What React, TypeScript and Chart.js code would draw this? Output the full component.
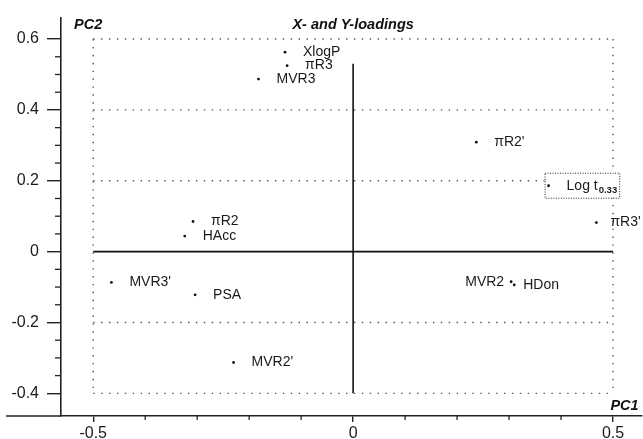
import React, { useEffect, useRef } from "react";
import { Chart, registerables } from "chart.js";

Chart.register(...registerables);

// ---- data ----
const pointNames = ["XlogP", "πR3", "MVR3", "πR2'", "Log t", "πR3'", "πR2", "HAcc", "MVR3'", "PSA", "MVR2'", "MVR2", "HDon"];
const pc1Values = [-0.131, -0.127, -0.182, 0.237, 0.376, 0.468, -0.308, -0.324, -0.465, -0.304, -0.23, 0.304, 0.31];
const pc2Values = [0.563, 0.525, 0.487, 0.309, 0.186, 0.082, 0.085, 0.044, -0.087, -0.122, -0.313, -0.085, -0.094];
const logSubscript = "0.33";
const boxedName = "Log t";
const leftLabelNames = ["MVR2"];

const xTickValues = [-0.5, 0, 0.5];
const xTickLabels = ["-0.5", "0", "0.5"];
const yTickValues = [-0.4, -0.2, 0, 0.2, 0.4, 0.6];
const yTickLabels = ["-0.4", "-0.2", "0", "0.2", "0.4", "0.6"];
const xMinorTicks = [-0.4, -0.3, -0.2, -0.1, 0.1, 0.2, 0.3, 0.4];
const yMinorTicks = [-0.35, -0.3, -0.25, -0.15, -0.1, -0.05, 0.05, 0.1, 0.15, 0.25, 0.3, 0.35, 0.45, 0.5, 0.55];
const dottedRows = [0.6, 0.4, 0.2, -0.2, -0.4];
const dottedCols = [-0.5, 0.5];

const chartTitle = "X- and Y-loadings";
const xAxisTitle = "PC1";
const yAxisTitle = "PC2";

const SANS = '"Liberation Sans", Arial, sans-serif';
const LABEL_FONT = `14px ${SANS}`;
const SUB_FONT = `bold 9.5px ${SANS}`;

const labelGap = (name: string) => (name === "HDon" ? 9 : name === "πR3'" ? 14 : 18);

const overlayPlugin = {
  id: "overlay",
  beforeDatasetsDraw(chart: any) {
    const { ctx, chartArea } = chart;
    const xs = chart.scales.x;
    const ys = chart.scales.y;
    const X = (v: number) => xs.getPixelForValue(v);
    const Y = (v: number) => ys.getPixelForValue(v);
    const line = (x1: number, y1: number, x2: number, y2: number) => {
      ctx.beginPath();
      ctx.moveTo(x1, y1);
      ctx.lineTo(x2, y2);
      ctx.stroke();
    };
    ctx.save();
    // dotted frame / grid
    ctx.strokeStyle = "#555";
    ctx.lineWidth = 1.4;
    ctx.setLineDash([1.4, 6.5]);
    for (const v of dottedRows) line(X(-0.5), Y(v), X(0.5), Y(v));
    for (const v of dottedCols) line(X(v), Y(0.6), X(v), Y(-0.4));
    // solid zero lines
    ctx.setLineDash([]);
    ctx.strokeStyle = "#111";
    ctx.lineWidth = 1.6;
    line(X(-0.5), Y(0), X(0.5), Y(0));
    line(X(0), Y(0.53), X(0), Y(-0.4));
    // x-axis extension to the left of the y axis
    ctx.strokeStyle = "#222";
    ctx.lineWidth = 1.6;
    line(6, chartArea.bottom, chartArea.left, chartArea.bottom);
    // minor ticks
    ctx.lineWidth = 1.3;
    for (const v of xMinorTicks) line(X(v), chartArea.bottom, X(v), chartArea.bottom + 4);
    for (const v of yMinorTicks) line(chartArea.left - 6, Y(v), chartArea.left, Y(v));
    // highlighted label box (opaque, covers the grid)
    const meta = chart.getDatasetMeta(0);
    const bi = pointNames.indexOf(boxedName);
    if (bi >= 0 && meta.data[bi]) {
      const pt = meta.data[bi];
      ctx.font = LABEL_FONT;
      const w = ctx.measureText(boxedName).width;
      ctx.font = SUB_FONT;
      const w2 = ctx.measureText(logSubscript).width;
      const tx = pt.x + labelGap(boxedName);
      const bx = pt.x - 4;
      const bw = tx + w + 1 + w2 + 2 - bx;
      ctx.fillStyle = "#fff";
      ctx.fillRect(bx, pt.y - 13, bw, 25);
      ctx.strokeStyle = "#222";
      ctx.lineWidth = 1;
      ctx.setLineDash([1, 1.5]);
      ctx.strokeRect(bx + 0.5, pt.y - 12.5, bw, 25);
      ctx.setLineDash([]);
    }
    ctx.restore();
  },
  afterDatasetsDraw(chart: any) {
    const { ctx, chartArea } = chart;
    const meta = chart.getDatasetMeta(0);
    ctx.save();
    ctx.fillStyle = "#1a1a1a";
    ctx.textBaseline = "middle";
    ctx.font = LABEL_FONT;
    meta.data.forEach((pt: any, i: number) => {
      const name = pointNames[i];
      if (leftLabelNames.includes(name)) {
        ctx.textAlign = "right";
        ctx.fillText(name, pt.x - 7, pt.y);
        return;
      }
      ctx.textAlign = "left";
      const tx = pt.x + labelGap(name);
      ctx.fillText(name, tx, pt.y);
      if (name === boxedName) {
        const w = ctx.measureText(name).width;
        ctx.font = SUB_FONT;
        ctx.fillText(logSubscript, tx + w + 1, pt.y + 5);
        ctx.font = LABEL_FONT;
      }
    });
    // titles
    ctx.fillStyle = "#111";
    ctx.textBaseline = "alphabetic";
    ctx.font = `italic bold 14.5px ${SANS}`;
    ctx.textAlign = "center";
    ctx.fillText(chartTitle, chart.scales.x.getPixelForValue(0), 29);
    ctx.textAlign = "left";
    ctx.fillText(yAxisTitle, chartArea.left + 13, 29);
    ctx.textAlign = "right";
    ctx.fillText(xAxisTitle, chartArea.right - 3, chartArea.bottom - 6);
    ctx.restore();
  },
};

export default function App() {
  const canvasRef = useRef<HTMLCanvasElement | null>(null);

  useEffect(() => {
    document.body.style.margin = "0";
    const canvas = canvasRef.current;
    if (!canvas) return;
    const points = pc1Values.map((v, i) => ({ x: v, y: pc2Values[i] }));
    const chart = new Chart(canvas, {
      type: "scatter",
      data: {
        datasets: [
          {
            data: points,
            pointRadius: 1.4,
            pointBackgroundColor: "#111",
            pointBorderWidth: 0,
            pointHoverRadius: 1.4,
          },
        ],
      },
      options: {
        animation: false,
        responsive: false,
        maintainAspectRatio: false,
        layout: { padding: { top: 13, right: 0, left: 0, bottom: 0 } },
        plugins: {
          legend: { display: false },
          tooltip: { enabled: false },
          title: { display: false },
        },
        scales: {
          x: {
            type: "linear",
            min: -0.562,
            max: 0.555,
            afterBuildTicks: (scale: any) => {
              scale.ticks = xTickValues.map((v) => ({ value: v }));
            },
            afterFit: (scale: any) => {
              scale.height = 23;
            },
            ticks: {
              autoSkip: false,
              maxRotation: 0,
              padding: 2,
              color: "#1a1a1a",
              font: { family: SANS, size: 16 },
              callback: (value: any) => {
                const i = xTickValues.findIndex((t) => Math.abs(t - value) < 1e-9);
                return i >= 0 ? xTickLabels[i] : "";
              },
            },
            grid: {
              display: true,
              drawOnChartArea: false,
              drawTicks: true,
              tickLength: 6,
              color: "#222",
              lineWidth: 1.4,
            },
            border: { display: true, color: "#222", width: 1.6 },
          },
          y: {
            type: "linear",
            min: -0.464,
            max: 0.6606,
            afterBuildTicks: (scale: any) => {
              scale.ticks = yTickValues.map((v) => ({ value: v }));
            },
            afterFit: (scale: any) => {
              scale.width = 61;
            },
            ticks: {
              autoSkip: false,
              padding: 8,
              color: "#1a1a1a",
              font: { family: SANS, size: 16 },
              callback: (value: any) => {
                const i = yTickValues.findIndex((t) => Math.abs(t - value) < 1e-9);
                return i >= 0 ? yTickLabels[i] : "";
              },
            },
            grid: {
              display: true,
              drawOnChartArea: false,
              drawTicks: true,
              tickLength: 14,
              color: "#222",
              lineWidth: 1.4,
            },
            border: { display: true, color: "#222", width: 1.6 },
          },
        },
      },
      plugins: [overlayPlugin],
    } as any);
    return () => chart.destroy();
  }, []);

  return (
    <div style={{ position: "absolute", left: 0, top: 0, width: 643, height: 439, background: "#fff" }}>
      <canvas ref={canvasRef} width={643} height={439} />
    </div>
  );
}
